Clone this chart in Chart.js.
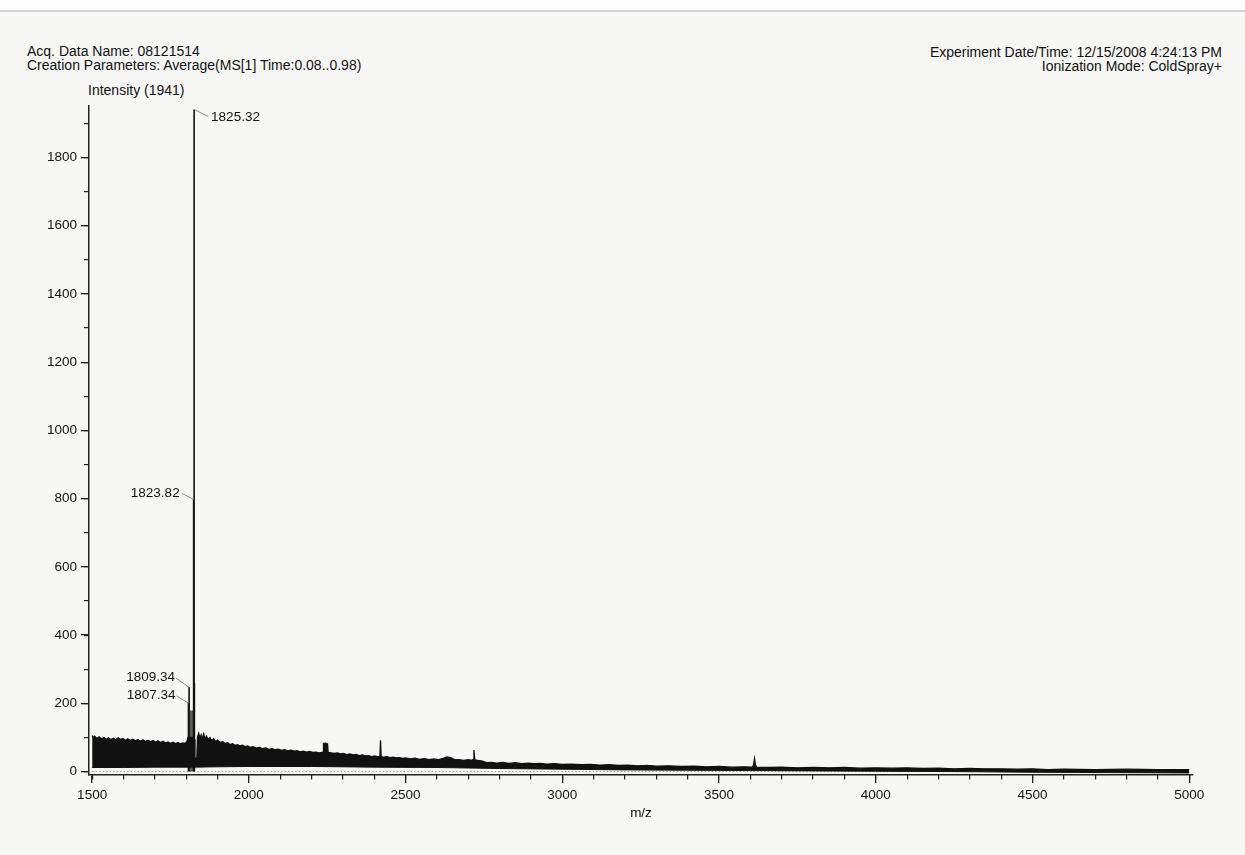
<!DOCTYPE html>
<html><head><meta charset="utf-8">
<script src="https://cdn.jsdelivr.net/npm/chart.js@4.4.0/dist/chart.umd.min.js"></script>
<style>
html,body{margin:0;padding:0;background:#f7f7f5;}
#wrap{position:relative;width:1245px;height:855px;overflow:hidden;background:#f7f7f5;}
#topline{position:absolute;left:0;top:0;width:1245px;height:10px;background:#fdfdfd;border-bottom:2px solid #d4d4d4;}
.t{position:absolute;font-family:"Liberation Sans",Arial,sans-serif;font-size:14px;color:#111;white-space:nowrap;line-height:14px;}
canvas{position:absolute;left:0;top:0;}
</style></head><body>
<div id="wrap">
<div id="topline"></div>
<div class="t" style="left:27px;top:44px">Acq. Data Name: 08121514</div>
<div class="t" style="left:27px;top:58px">Creation Parameters: Average(MS[1] Time:0.08..0.98)</div>
<div class="t" style="left:88px;top:83px">Intensity (1941)</div>
<div class="t" style="right:23px;top:45px;text-align:right">Experiment Date/Time: 12/15/2008 4:24:13 PM</div>
<div class="t" style="right:23px;top:59px;text-align:right">Ionization Mode: ColdSpray+</div>
<canvas id="c" width="1245" height="855"></canvas>
</div>
<script>
// ---- data ----
const xMajorTicks = [1500, 2000, 2500, 3000, 3500, 4000, 4500, 5000];
const yMajorTicks = [0, 200, 400, 600, 800, 1000, 1200, 1400, 1600, 1800];

// upper edge of the dense noise band (m/z, intensity)
const noiseMz = [1500,1503,1508,1515,1522,1530,1538,1545,1552,1560,1568,1575,1583,1590,1598,1606,1614,1622,1630,1638,1646,1654,1662,1670,1678,1686,1694,1702,1710,1718,1726,1734,1742,1750,1758,1766,1774,1782,1790,1797,1802,1806,1823,1824.5,1826.5,1828,1834,1836,1840,1844,1848,1852,1856,1860,1865,1870,1876,1882,1888,1894,1900,1908,1916,1924,1932,1940,1948,1956,1964,1972,1980,1988,1996,2004,2014,2024,2034,2044,2054,2064,2074,2084,2094,2104,2114,2124,2134,2144,2154,2164,2174,2184,2194,2204,2214,2224,2234,2237,2238,2244,2251,2253,2262,2272,2282,2292,2302,2312,2322,2332,2342,2352,2362,2372,2382,2392,2402,2412,2418,2420,2422,2430,2440,2450,2460,2470,2480,2490,2500,2515,2530,2545,2560,2575,2590,2605,2620,2632,2645,2655,2670,2685,2700,2712,2716,2718,2721,2730,2745,2758,2775,2790,2810,2830,2850,2870,2890,2910,2930,2950,2975,3000,3030,3060,3090,3120,3150,3180,3210,3240,3270,3300,3340,3380,3420,3460,3500,3540,3580,3606,3610,3613,3616,3620,3660,3700,3750,3800,3850,3900,3950,4000,4050,4100,4150,4200,4250,4300,4350,4400,4450,4500,4550,4600,4700,4800,4900,5000];
const noiseUpper = [106,100,104,97,102,96,100,95,99,94,98,93,99,94,97,92,96,91,95,90,94,89,93,88,92,87,91,86,90,85,89,84,87,83,86,82,85,81,84,83,88,100,100,110,95,40,38,100,112,98,108,96,110,97,104,94,100,91,96,88,92,85,88,82,85,79,82,77,79,75,77,73,75,71,73,69,71,67,69,65,67,64,66,62,64,61,63,60,61,58,60,57,59,56,57,55,56,58,82,83,81,56,55,53,55,52,53,50,52,49,50,47,49,46,47,44,46,43,45,92,45,42,44,41,42,40,41,39,40,37,39,36,38,35,37,35,39,43,40,36,35,33,35,33,36,63,34,33,31,26,27,25,27,24,26,23,25,23,24,22,23,21,22,20,21,19,20,18,19,17,18,16,17,15,16,14,15,13,14,13,20,38,20,13,12,13,11,12,11,12,10,11,10,11,9,10,8,9,8,8,7,8,6,7,6,7,6,6];

// lower edge of the noise band
const lowMz  = [1500,1600,1700,1800,1825,1900,2000,2200,2400,2600,2800,3000,3200,3400,3600,3800,4000,4250,4500,4750,5000];
const lowVal = [12,12,13,13,13,14,15,15,13,12,9,7,5,4,3,2,1,0,-2,-3,-4];

// unresolved cluster beside the main peak (grey)
const clusterMz  = [1809.6, 1810.2, 1822.8, 1823.4];
const clusterInt = [100, 178, 178, 100];

// resolved sticks
const peakMz  = [1807.34, 1809.34, 1823.82, 1824.5, 1825.32, 1826.2];
const peakInt = [201, 247, 798, 700, 1941, 260];

// labelled peaks
const labelMz  = [1825.32, 1823.82, 1809.34, 1807.34];
const labelInt = [1941, 798, 247, 201];

// ---- build ----
const xMinorTicks = []; for (let v = 1500; v <= 5000; v += 100) xMinorTicks.push(v);
const yMinorTicks = []; for (let v = 0; v <= 1900; v += 100) yMinorTicks.push(v);

const upperData = noiseMz.map((m, i) => ({x: m, y: noiseUpper[i]}));
const lowerData = lowMz.map((m, i) => ({x: m, y: lowVal[i]}));
const clusterData = clusterMz.map((m, i) => ({x: m, y: clusterInt[i]}));
const peakData = [];
peakMz.forEach((m, i) => { peakData.push({x: m, y: 0}, {x: m, y: peakInt[i]}, {x: m, y: null}); });
const zeroData = [{x: xMajorTicks[0], y: 0}, {x: xMajorTicks[xMajorTicks.length - 1], y: 0}];

const labelStyle = [
  {lx: 14, ly: 7, tx: 17, ty: 8, align: 'left'},
  {lx: -12, ly: -6, tx: -14, ty: -6, align: 'right'},
  {lx: -13, ly: -9, tx: -14, ty: -10, align: 'right'},
  {lx: -12, ly: -7, tx: -13, ty: -8, align: 'right'}
];
const FONT = '"Liberation Sans", Arial, sans-serif';

const labelPlugin = {
  id: 'peakLabels',
  afterDatasetsDraw(chart) {
    const {ctx} = chart; const x = chart.scales.x, y = chart.scales.y;
    ctx.save();
    ctx.font = '13.5px ' + FONT;
    ctx.textBaseline = 'middle';
    labelMz.forEach((m, i) => {
      const px = x.getPixelForValue(m), py = y.getPixelForValue(labelInt[i]);
      const o = labelStyle[i];
      ctx.strokeStyle = '#8a8a8a'; ctx.lineWidth = 1;
      ctx.beginPath(); ctx.moveTo(px + o.lx, py + o.ly); ctx.lineTo(px, py); ctx.stroke();
      ctx.fillStyle = '#111'; ctx.textAlign = o.align;
      ctx.fillText(m.toFixed(2), px + o.tx, py + o.ty);
    });
    ctx.restore();
  }
};

const tickFont = {family: FONT, size: 13.5};
new Chart(document.getElementById('c'), {
  type: 'line',
  data: {datasets: [
    {data: peakData, xAxisID: 'x', yAxisID: 'y', borderColor: '#111', borderWidth: 1.6, pointRadius: 0, spanGaps: false, fill: false, order: 0},
    {data: upperData, xAxisID: 'x', yAxisID: 'y', borderColor: '#111', borderWidth: 1.3, pointRadius: 0, fill: '+1', backgroundColor: '#111', order: 1},
    {data: lowerData, xAxisID: 'x', yAxisID: 'y', borderColor: '#111', borderWidth: 1, pointRadius: 0, fill: false, order: 2},
    {data: clusterData, xAxisID: 'x', yAxisID: 'y', borderColor: '#5a5a5a', borderWidth: 0.5, backgroundColor: '#5a5a5a', fill: 'origin', pointRadius: 0, order: 3},
    {data: zeroData, xAxisID: 'x', yAxisID: 'y', borderColor: '#9a9a9a', borderWidth: 1, borderDash: [1.5, 2], pointRadius: 0, fill: false, order: 4}
  ]},
  options: {
    responsive: false, animation: false, devicePixelRatio: 1,
    plugins: {legend: {display: false}, tooltip: {enabled: false}},
    elements: {line: {tension: 0}},
    layout: {padding: {left: 29, top: 106, right: 52, bottom: 30}},
    scales: {
      x: {type: 'linear', min: 1490, max: 5012, position: 'bottom', weight: 1,
        afterBuildTicks: s => { s.ticks = xMajorTicks.map(v => ({value: v})); },
        afterFit: s => { s.height = 50; },
        grid: {display: true, drawOnChartArea: false, drawTicks: true, tickLength: 8, color: '#222', lineWidth: 1.3},
        border: {display: true, color: '#222', width: 1.5},
        ticks: {autoSkip: false, maxRotation: 0, padding: 4, color: '#111', font: tickFont, callback: v => String(v)},
        title: {display: true, text: 'm/z', color: '#111', font: tickFont, padding: {top: 0, bottom: 4}}
      },
      xMinor: {type: 'linear', min: 1490, max: 5012, position: 'bottom', weight: 0,
        afterBuildTicks: s => { s.ticks = xMinorTicks.map(v => ({value: v})); },
        afterFit: s => { s.height = 0; },
        grid: {display: true, drawOnChartArea: false, drawTicks: true, tickLength: 4.5, color: '#222', lineWidth: 1.2},
        border: {display: false}, ticks: {display: false}
      },
      y: {type: 'linear', min: -10, max: 1951, position: 'left', weight: 1,
        afterBuildTicks: s => { s.ticks = yMajorTicks.map(v => ({value: v})); },
        afterFit: s => { s.width = 60; },
        grid: {display: true, drawOnChartArea: false, drawTicks: true, tickLength: 8, color: '#222', lineWidth: 1.3},
        border: {display: true, color: '#222', width: 1.5},
        ticks: {autoSkip: false, padding: 4, color: '#111', font: tickFont, callback: v => String(v)}
      },
      yMinor: {type: 'linear', min: -10, max: 1951, position: 'left', weight: 0,
        afterBuildTicks: s => { s.ticks = yMinorTicks.map(v => ({value: v})); },
        afterFit: s => { s.width = 0; },
        grid: {display: true, drawOnChartArea: false, drawTicks: true, tickLength: 5, color: '#222', lineWidth: 1.2},
        border: {display: false}, ticks: {display: false}
      }
    }
  },
  plugins: [labelPlugin]
});
</script>
</body></html>
